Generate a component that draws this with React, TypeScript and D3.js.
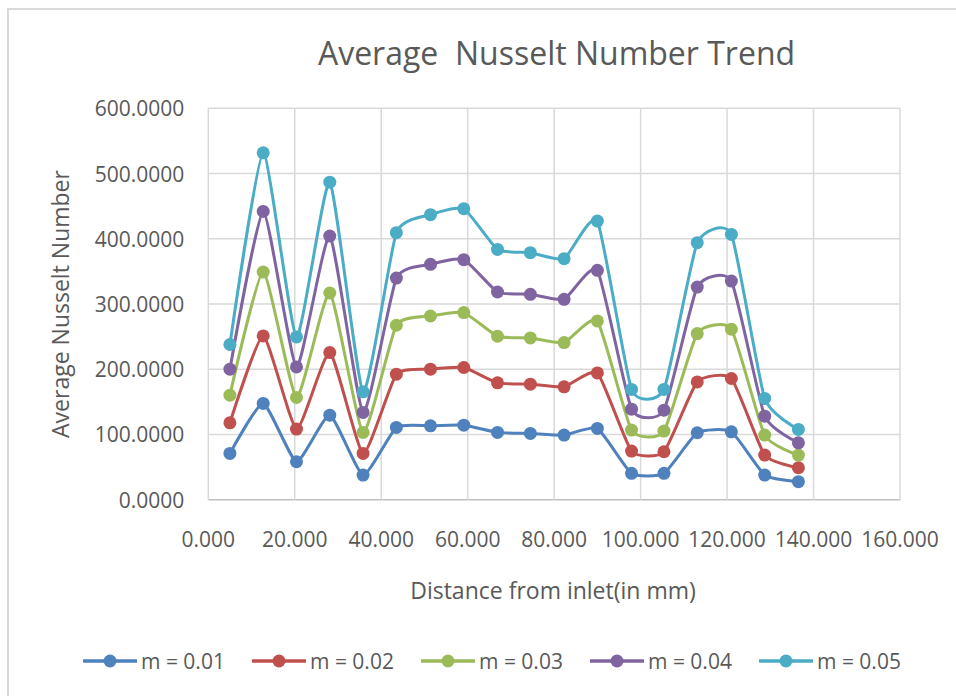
import React from "react";
import * as d3 from "d3";

const distance = [5.0, 12.7, 20.4, 28.1, 35.8, 43.5, 51.4, 59.1, 66.9, 74.5, 82.3, 90.0, 97.9, 105.4, 113.1, 121.0, 128.7, 136.5];

const m001 = [71.0, 147.6, 58.2, 129.6, 37.8, 110.8, 113.3, 114.3, 103.2, 101.6, 99.0, 109.3, 40.4, 40.4, 102.6, 104.1, 37.8, 27.6];
const m002 = [117.9, 251.0, 108.2, 225.6, 71.0, 192.4, 200.1, 202.7, 179.1, 177.1, 173.0, 194.4, 74.5, 73.5, 180.6, 185.8, 68.4, 49.0];
const m003 = [160.3, 349.0, 156.7, 316.9, 103.2, 267.4, 281.6, 286.8, 250.6, 248.0, 240.9, 274.0, 106.7, 105.2, 254.7, 261.3, 99.0, 68.4];
const m004 = [200.1, 441.9, 203.6, 404.1, 133.8, 339.8, 360.8, 368.0, 318.4, 314.9, 307.2, 351.6, 138.8, 137.3, 326.0, 335.2, 128.1, 87.2];
const m005 = [237.9, 531.8, 249.5, 486.8, 165.3, 409.3, 436.9, 446.0, 383.7, 378.7, 369.5, 427.1, 169.0, 169.0, 394.0, 406.7, 155.2, 107.8];

const seriesNames = ["m = 0.01", "m = 0.02", "m = 0.03", "m = 0.04", "m = 0.05"];
const seriesValues = [m001, m002, m003, m004, m005];
const seriesColors = ["#4F81BD", "#C0504D", "#9BBB59", "#8064A2", "#4BACC6"];

const xTicks = [0, 20, 40, 60, 80, 100, 120, 140, 160];
const yTicks = [0, 100, 200, 300, 400, 500, 600];

const title = "Average  Nusselt Number Trend";
const xTitle = "Distance from inlet(in mm)";
const yTitle = "Average Nusselt Number";

export default function App() {
  const left = 208.3, right = 900, top = 108.3, bottom = 499.7;
  const x = d3.scaleLinear().domain([0, 160]).range([left, right]);
  const y = d3.scaleLinear().domain([0, 600]).range([bottom, top]);
  const line = d3
    .line<number>()
    .x((_, i) => x(distance[i]))
    .y((d) => y(d))
    .curve(d3.curveCardinal.tension(0.5));

  const font = "'Open Sans', sans-serif";
  const textColor = "#595959";
  const grid = "#d9d9d9";

  return (
    <svg
      width={956}
      height={696}
      style={{ position: "absolute", left: 0, top: 0, background: "#fff" }}
      fontFamily={font}
    >
      <rect x={0} y={0} width={956} height={696} fill="#fff" />
      <rect x={8} y={9} width={960} height={700} fill="none" stroke="#d9d9d9" strokeWidth={2} />

      <text
        x={556.5}
        y={52}
        textAnchor="middle"
        dominantBaseline="central"
        fontSize={32}
        fill={textColor}
        xmlSpace="preserve"
        style={{ whiteSpace: "pre" }}
      >
        {title}
      </text>

      {/* grid */}
      {yTicks.map((t) => (
        <line key={"gy" + t} x1={left} x2={right} y1={y(t)} y2={y(t)} stroke={t === 0 ? "#bfbfbf" : grid} strokeWidth={1.5} />
      ))}
      {xTicks.map((t) => (
        <line key={"gx" + t} x1={x(t)} x2={x(t)} y1={top} y2={bottom} stroke={grid} strokeWidth={1.5} />
      ))}

      {/* y tick labels */}
      {yTicks.map((t) => (
        <text key={"ty" + t} x={left - 24} y={y(t)} textAnchor="end" dominantBaseline="central" fontSize={21} fill={textColor}>
          {t.toFixed(4)}
        </text>
      ))}
      {/* x tick labels */}
      {xTicks.map((t) => (
        <text key={"tx" + t} x={x(t)} y={539} textAnchor="middle" dominantBaseline="central" fontSize={21} fill={textColor}>
          {t.toFixed(3)}
        </text>
      ))}

      <text x={553} y={590} textAnchor="middle" dominantBaseline="central" fontSize={23} fill={textColor}>
        {xTitle}
      </text>
      <text
        transform={`translate(60, ${(top + bottom) / 2}) rotate(-90)`}
        textAnchor="middle"
        dominantBaseline="central"
        fontSize={23}
        fill={textColor}
      >
        {yTitle}
      </text>

      {/* series */}
      {seriesValues.map((vals, si) => (
        <g key={"s" + si}>
          <path d={line(vals) || ""} fill="none" stroke={seriesColors[si]} strokeWidth={3} />
          {vals.map((v, i) => (
            <circle key={i} cx={x(distance[i])} cy={y(v)} r={6.5} fill={seriesColors[si]} />
          ))}
        </g>
      ))}

      {/* legend */}
      {seriesNames.map((name, i) => {
        const cx = 110 + i * 169;
        return (
          <g key={"l" + i}>
            <line x1={cx - 27} x2={cx + 27} y1={661} y2={661} stroke={seriesColors[i]} strokeWidth={3.3} />
            <circle cx={cx} cy={661} r={6.5} fill={seriesColors[i]} />
            <text x={cx + 31} y={661} dominantBaseline="central" fontSize={21} fill={textColor}>
              {name}
            </text>
          </g>
        );
      })}
    </svg>
  );
}
